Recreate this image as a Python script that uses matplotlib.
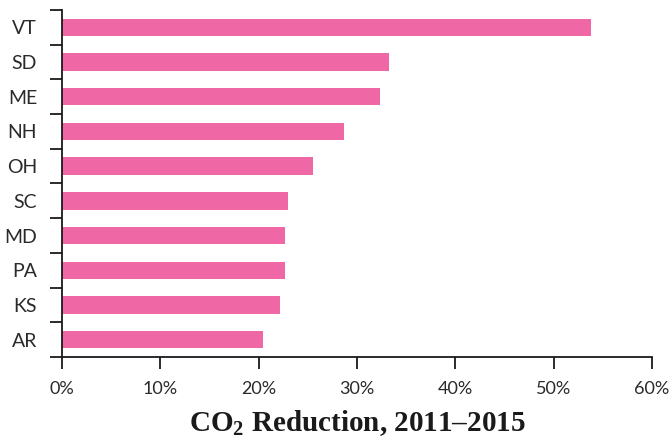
import numpy as np
import matplotlib
matplotlib.use('Agg')
import matplotlib.pyplot as plt
from matplotlib.ticker import FixedLocator, PercentFormatter

# data (top to bottom as shown)
states = ['VT', 'SD', 'ME', 'NH', 'OH', 'SC', 'MD', 'PA', 'KS', 'AR']
reduction = [53.8, 33.3, 32.3, 28.7, 25.5, 23.0, 22.7, 22.7, 22.2, 20.4]
x_ticks = [0, 10, 20, 30, 40, 50, 60]

bar_color = '#EF67A5'
axis_color = '#1a1a1a'

plt.rcParams['mathtext.fontset'] = 'custom'
plt.rcParams['mathtext.rm'] = 'Liberation Serif:bold'
plt.rcParams['mathtext.bf'] = 'Liberation Serif:bold'

fig = plt.figure(figsize=(6.69, 4.40), dpi=100)
ax = fig.add_axes([62 / 669, 1 - 357 / 440, 590 / 669, 347 / 440])

y = np.arange(len(states))[::-1]
ax.barh(y, reduction, height=0.5, color=bar_color)

ax.set_xlim(0, 60)
ax.set_ylim(-0.5, len(states) - 0.5)

ax.set_xticks(x_ticks)
ax.xaxis.set_major_formatter(PercentFormatter(decimals=0))

ax.set_yticks(y)
ax.set_yticklabels(states)
ax.yaxis.set_minor_locator(FixedLocator(np.arange(-0.5, len(states), 1.0)))

for s in ['top', 'right']:
    ax.spines[s].set_visible(False)
for s in ['left', 'bottom']:
    ax.spines[s].set_color(axis_color)
    ax.spines[s].set_linewidth(1.3)

ax.tick_params(axis='x', length=8.5, width=1.3, color=axis_color, pad=9,
               labelsize=13, labelcolor='#2a2a2a')
ax.tick_params(axis='y', which='major', length=0, pad=18,
               labelsize=14, labelcolor='#2a2a2a')
ax.tick_params(axis='y', which='minor', length=8.5, width=1.3, color=axis_color)

for lab in ax.get_xticklabels() + ax.get_yticklabels():
    lab.set_fontfamily('Lato')

ax.set_xlabel(r'CO$_2$ Reduction, 2011–2015', fontfamily='Liberation Serif',
              fontweight='bold', fontsize=21, color='#1a1a1a', labelpad=7.5)

fig.savefig('out.png', dpi=100)
